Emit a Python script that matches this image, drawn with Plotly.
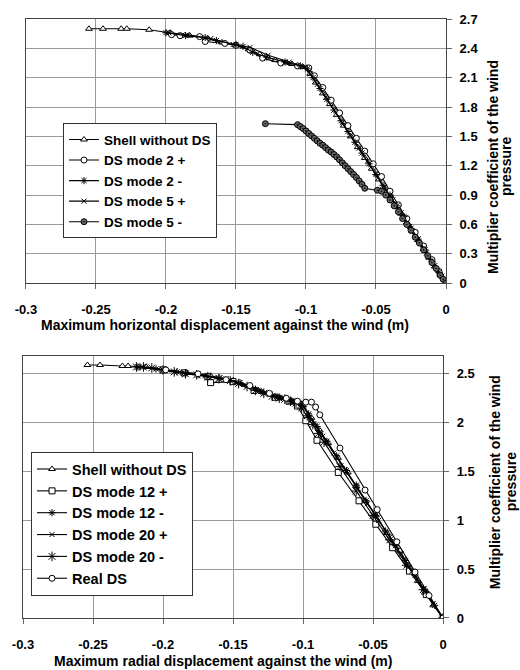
import plotly.graph_objects as go

# ---------------- Top chart data ----------------
top_x_ticks = [-0.3, -0.25, -0.2, -0.15, -0.1, -0.05, 0]
top_x_ticktext = ["-0.3", "-0.25", "-0.2", "-0.15", "-0.1", "-0.05", "0"]
top_y_ticks = [0, 0.3, 0.6, 0.9, 1.2, 1.5, 1.8, 2.1, 2.4, 2.7]
top_y_ticktext = ["0", "0.3", "0.6", "0.9", "1.2", "1.5", "1.8", "2.1", "2.4", "2.7"]

shell_top_x = [-0.255, -0.245, -0.232, -0.228, -0.212, -0.197, -0.183, -0.170, -0.160, -0.150,
               -0.141, -0.133, -0.122, -0.110, -0.102, -0.097, -0.093, -0.088, -0.083, -0.078,
               -0.073, -0.068, -0.063, -0.058, -0.053, -0.048, -0.044, -0.040, -0.036, -0.032,
               -0.028, -0.024, -0.020, -0.016, -0.012, -0.008, -0.004, 0]
shell_top_y = [2.60, 2.60, 2.60, 2.60, 2.59, 2.56, 2.53, 2.50, 2.46, 2.43,
               2.39, 2.34, 2.28, 2.24, 2.21, 2.14, 2.05, 1.94, 1.83, 1.72,
               1.61, 1.50, 1.39, 1.28, 1.17, 1.06, 0.97, 0.89, 0.80, 0.71,
               0.62, 0.53, 0.44, 0.35, 0.26, 0.17, 0.08, 0]

ds2p_x = [-0.196, -0.190, -0.176, -0.172, -0.158, -0.150, -0.140, -0.131, -0.118, -0.106,
          -0.098, -0.094, -0.088, -0.082, -0.076, -0.070, -0.064, -0.058, -0.052, -0.046,
          -0.040, -0.034, -0.028, -0.022, -0.016, -0.010, -0.005, 0]
ds2p_y = [2.54, 2.53, 2.52, 2.47, 2.45, 2.43, 2.38, 2.30, 2.25, 2.22,
          2.20, 2.12, 2.00, 1.87, 1.74, 1.61, 1.48, 1.35, 1.22, 1.09,
          0.94, 0.80, 0.66, 0.52, 0.38, 0.24, 0.12, 0]

ds2m_x = [-0.200, -0.186, -0.172, -0.164, -0.150, -0.145, -0.138, -0.128, -0.115, -0.104,
          -0.099, -0.095, -0.090, -0.085, -0.080, -0.075, -0.070, -0.065, -0.060, -0.055,
          -0.050, -0.045, -0.040, -0.035, -0.030, -0.025, -0.020, -0.015, -0.010, -0.005, 0]
ds2m_y = [2.56, 2.53, 2.51, 2.48, 2.44, 2.42, 2.36, 2.31, 2.26, 2.22,
          2.19, 2.10, 1.99, 1.88, 1.77, 1.66, 1.55, 1.44, 1.33, 1.22,
          1.11, 1.00, 0.90, 0.79, 0.68, 0.56, 0.45, 0.34, 0.22, 0.11, 0]

ds5p_x = [-0.198, -0.185, -0.168, -0.152, -0.140, -0.127, -0.112, -0.101, -0.097, -0.092,
          -0.086, -0.080, -0.074, -0.068, -0.062, -0.056, -0.050, -0.044, -0.038, -0.032,
          -0.026, -0.020, -0.014, -0.008, -0.003, 0]
ds5p_y = [2.56, 2.54, 2.50, 2.44, 2.41, 2.33, 2.26, 2.21, 2.14, 2.03,
          1.90, 1.77, 1.64, 1.51, 1.38, 1.25, 1.12, 0.98, 0.85, 0.72,
          0.58, 0.45, 0.31, 0.18, 0.07, 0]

ds5m_x = [-0.129, -0.106, -0.104, -0.102, -0.100, -0.098, -0.096, -0.094, -0.092, -0.090,
          -0.088, -0.086, -0.084, -0.082, -0.080, -0.078, -0.076, -0.074, -0.072, -0.070,
          -0.068, -0.066, -0.064, -0.062, -0.060, -0.058, -0.049, -0.046, -0.043, -0.040,
          -0.037, -0.034, -0.031, -0.028, -0.025, -0.022, -0.019, -0.016, -0.013, -0.010,
          -0.007, -0.004, -0.002, 0]
ds5m_y = [1.63, 1.62, 1.60, 1.58, 1.555, 1.53, 1.505, 1.48, 1.455, 1.43,
          1.41, 1.385, 1.36, 1.34, 1.315, 1.29, 1.26, 1.23, 1.20, 1.17,
          1.14, 1.11, 1.08, 1.045, 1.01, 0.97, 0.95, 0.94, 0.90, 0.85,
          0.79, 0.73, 0.66, 0.60, 0.54, 0.47, 0.41, 0.34, 0.28, 0.21,
          0.15, 0.08, 0.04, 0]

# ---------------- Bottom chart data ----------------
bot_x_ticks = [-0.3, -0.25, -0.2, -0.15, -0.1, -0.05, 0]
bot_x_ticktext = ["-0.3", "-0.25", "-0.2", "-0.15", "-0.1", "-0.05", "0"]
bot_y_ticks = [0, 0.5, 1, 1.5, 2, 2.5]
bot_y_ticktext = ["0", "0.5", "1", "1.5", "2", "2.5"]

shell_bot_x = [-0.254, -0.245, -0.229, -0.225, -0.212, -0.198, -0.183, -0.166, -0.150, -0.132,
               -0.116, -0.106, -0.100, -0.094, -0.088, -0.082, -0.075, -0.068, -0.062, -0.0557,
               -0.048, -0.040, -0.0307, -0.025, -0.018, -0.013, -0.007, 0]
shell_bot_y = [2.59, 2.59, 2.58, 2.58, 2.57, 2.54, 2.51, 2.48, 2.43, 2.33,
               2.25, 2.21, 2.18, 2.05, 1.92, 1.79, 1.64, 1.49, 1.35, 1.20,
               1.05, 0.87, 0.69, 0.54, 0.38, 0.26, 0.13, 0]

ds12p_x = [-0.200, -0.185, -0.168, -0.166, -0.150, -0.135, -0.120, -0.110, -0.104, -0.098,
           -0.090, -0.0748, -0.060, -0.048, -0.036, -0.024, -0.012, 0]
ds12p_y = [2.54, 2.51, 2.47, 2.41, 2.42, 2.33, 2.26, 2.22, 2.17, 2.02,
           1.82, 1.49, 1.20, 0.96, 0.72, 0.48, 0.24, 0]

ds12m_x = [-0.218, -0.205, -0.190, -0.175, -0.160, -0.145, -0.130, -0.118, -0.108, -0.101,
           -0.096, -0.090, -0.083, -0.076, -0.069, -0.062, -0.055, -0.048, -0.041, -0.034,
           -0.027, -0.020, -0.013, -0.006, 0]
ds12m_y = [2.57, 2.55, 2.52, 2.49, 2.46, 2.41, 2.32, 2.26, 2.22, 2.19,
           2.09, 1.96, 1.81, 1.66, 1.51, 1.36, 1.20, 1.05, 0.89, 0.74,
           0.59, 0.44, 0.28, 0.13, 0]

ds20p_x = [-0.215, -0.200, -0.185, -0.170, -0.155, -0.140, -0.127, -0.115, -0.106, -0.100,
           -0.094, -0.086, -0.078, -0.070, -0.062, -0.054, -0.046, -0.038, -0.030, -0.022,
           -0.014, -0.007, 0]
ds20p_y = [2.57, 2.54, 2.51, 2.48, 2.45, 2.38, 2.30, 2.25, 2.21, 2.17,
           2.03, 1.86, 1.69, 1.52, 1.35, 1.17, 1.00, 0.83, 0.65, 0.48,
           0.30, 0.15, 0]

ds20m_x = [-0.219, -0.214, -0.208, -0.200, -0.192, -0.184, -0.176, -0.168, -0.160, -0.152,
           -0.146, -0.140, -0.134, -0.128, -0.122, -0.117, -0.113, -0.109, -0.105, -0.101,
           -0.097, -0.093, -0.089, -0.085, -0.0736, -0.062, -0.050, -0.038, -0.026, -0.014, 0]
ds20m_y = [2.57, 2.57, 2.56, 2.54, 2.52, 2.50, 2.49, 2.47, 2.45, 2.43,
           2.40, 2.37, 2.33, 2.30, 2.27, 2.25, 2.24, 2.22, 2.20, 2.15,
           2.07, 1.98, 1.89, 1.80, 1.55, 1.30, 1.05, 0.80, 0.54, 0.29, 0]

real_x = [-0.198, -0.175, -0.155, -0.138, -0.124, -0.112, -0.104, -0.098, -0.094, -0.091,
          -0.088, -0.0736, -0.0557, -0.047, -0.033, -0.020, -0.010, 0]
real_y = [2.54, 2.50, 2.44, 2.38, 2.30, 2.25, 2.22, 2.21, 2.21, 2.16,
          2.08, 1.74, 1.31, 1.11, 0.78, 0.47, 0.23, 0]

FONT = "Liberation Sans, Arial, sans-serif"
fig = go.Figure()


def add(x, y, name, symbol, xa, ya, leg, fill="white", size=6, lw=1):
    fig.add_trace(go.Scatter(
        x=x, y=y, name=name, mode="lines+markers",
        xaxis=xa, yaxis=ya, legend=leg,
        line=dict(color="black", width=1.1),
        marker=dict(symbol=symbol, size=size, color=fill,
                    line=dict(color="black", width=lw)),
    ))


# top chart
add(shell_top_x, shell_top_y, "Shell without DS", "triangle-up", "x", "y", "legend")
add(ds2p_x, ds2p_y, "DS mode 2 +", "circle", "x", "y", "legend")
add(ds2m_x, ds2m_y, "DS mode 2 -", "asterisk", "x", "y", "legend", fill="black")
add(ds5p_x, ds5p_y, "DS mode 5 +", "x-thin", "x", "y", "legend", fill="black", size=5)
add(ds5m_x, ds5m_y, "DS mode 5 -", "circle-dot", "x", "y", "legend", fill="#666", size=6)

# bottom chart
add(shell_bot_x, shell_bot_y, "Shell without DS", "triangle-up", "x2", "y2", "legend2")
add(ds12p_x, ds12p_y, "DS mode 12 +", "square", "x2", "y2", "legend2")
add(ds12m_x, ds12m_y, "DS mode 12 -", "asterisk", "x2", "y2", "legend2", fill="black")
add(ds20p_x, ds20p_y, "DS mode 20 +", "x-thin", "x2", "y2", "legend2", fill="black", size=5)
add(ds20m_x, ds20m_y, "DS mode 20 -", "asterisk-open", "x2", "y2", "legend2", fill="black", size=8)
add(real_x, real_y, "Real DS", "circle", "x2", "y2", "legend2")


def bold(lst):
    return ["<b>%s</b>" % t for t in lst]


axis_common = dict(
    showgrid=True, gridcolor="#9a9a9a", gridwidth=1,
    showline=True, linecolor="#444", linewidth=1, mirror=True,
    ticks="outside", ticklen=5, tickcolor="#666",
    tickfont=dict(family=FONT, size=13, color="black"),
    zeroline=False,
)

fig.update_layout(
    width=520, height=670,
    margin=dict(l=23, r=74, t=19, b=52),
    paper_bgcolor="white", plot_bgcolor="white",
    font=dict(family=FONT, color="black"),
    xaxis=dict(domain=[0.007, 1.0], anchor="y", range=[-0.3, 0], ticklabelstandoff=9,
               tickvals=top_x_ticks, ticktext=bold(top_x_ticktext), **axis_common),
    yaxis=dict(domain=[0.559, 1.0], anchor="x", side="right", range=[0, 2.7], ticklabelstandoff=5,
               tickvals=top_y_ticks, ticktext=bold(top_y_ticktext), **axis_common),
    xaxis2=dict(domain=[0.0, 0.993], anchor="y2", range=[-0.3, 0], ticklabelstandoff=9,
                tickvals=bot_x_ticks, ticktext=bold(bot_x_ticktext), **axis_common),
    yaxis2=dict(domain=[0.0, 0.437], anchor="x2", side="right", range=[0, 2.68], ticklabelstandoff=5,
                tickvals=bot_y_ticks, ticktext=bold(bot_y_ticktext), **axis_common),
    legend=dict(x=0.0946, y=0.826, xanchor="left", yanchor="top",
                bgcolor="white", bordercolor="#333", borderwidth=1,
                font=dict(family=FONT, size=13.5, color="black", weight="bold"),
                itemwidth=30),
    legend2=dict(x=0.019, y=0.277, xanchor="left", yanchor="top",
                 bgcolor="white", bordercolor="#333", borderwidth=1,
                 font=dict(family=FONT, size=14.5, color="black", weight="bold"),
                 itemwidth=30),
    showlegend=True,
)

title_font = dict(family=FONT, size=14, color="black", weight="bold")
annotations = [
    dict(text="Maximum horizontal displacement against the wind (m)",
         xref="x domain", yref="y domain", x=0.475, y=0, xanchor="center", yanchor="top",
         yshift=-32, showarrow=False, font=title_font),
    dict(text="Maximum radial displacement against the wind (m)",
         xref="x2 domain", yref="y2 domain", x=0.475, y=0, xanchor="center", yanchor="top",
         yshift=-33, showarrow=False, font=title_font),
    dict(text="Multiplier coefficient of the wind", textangle=-90,
         xref="x domain", yref="y domain", x=1, y=0.44, xanchor="center", yanchor="middle",
         xshift=47, showarrow=False, font=title_font),
    dict(text="pressure", textangle=-90,
         xref="x domain", yref="y domain", x=1, y=0.44, xanchor="center", yanchor="middle",
         xshift=60, showarrow=False, font=title_font),
    dict(text="Multiplier coefficient of the wind", textangle=-90,
         xref="x2 domain", yref="y2 domain", x=1, y=0.519, xanchor="center", yanchor="middle",
         xshift=52, showarrow=False, font=title_font),
    dict(text="pressure", textangle=-90,
         xref="x2 domain", yref="y2 domain", x=1, y=0.519, xanchor="center", yanchor="middle",
         xshift=68, showarrow=False, font=title_font),
]
fig.update_layout(annotations=annotations)

fig.write_html("out.html")
